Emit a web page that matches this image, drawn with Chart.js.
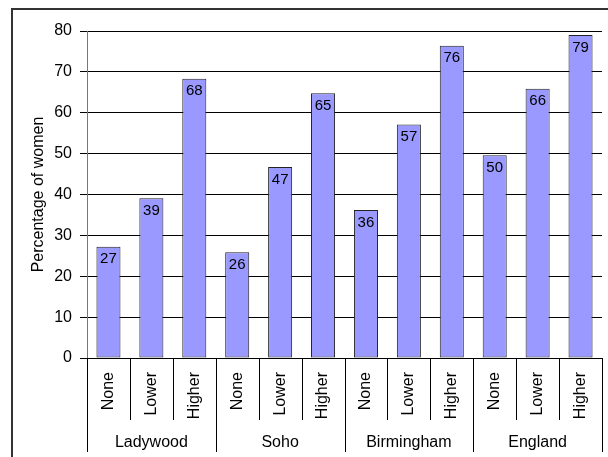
<!DOCTYPE html>
<html>
<head>
<meta charset="utf-8">
<script src="https://cdn.jsdelivr.net/npm/chart.js@4"></script>
<style>
  html, body { margin: 0; padding: 0; background: #fff; }
  #wrap { width: 608px; height: 457px; }
</style>
</head>
<body>
<div id="wrap"><canvas id="myChart" width="608" height="457"></canvas></div>
<script>
// Data
const groups = ['Ladywood', 'Soho', 'Birmingham', 'England'];
const levels = ['None', 'Lower', 'Higher'];
const ladywood = [27.2, 39.1, 68.3];
const soho = [25.9, 46.7, 64.8];
const birmingham = [36.2, 57.1, 76.4];
const england = [49.6, 65.9, 79.0];
const yTicks = [0, 10, 20, 30, 40, 50, 60, 70, 80];

const labels = [];
groups.forEach(() => levels.forEach(l => labels.push(l)));
const values = [].concat(ladywood, soho, birmingham, england);

const FONT = 'Arial, "Liberation Sans", sans-serif';

// Frame, group labels, dividers and value labels
const extras = {
  id: 'extras',
  afterDraw(chart) {
    const ctx = chart.ctx;
    const x = chart.scales.x;
    const area = chart.chartArea;
    const n = labels.length;
    const w = (x.right - x.left) / n;
    ctx.save();
    // category dividers
    ctx.strokeStyle = '#000';
    ctx.lineWidth = 1;
    for (let k = 0; k <= n; k++) {
      const px = Math.round(x.left + k * w) + 0.5;
      const end = (k % levels.length === 0) ? 452 : 420;
      ctx.beginPath();
      ctx.moveTo(px, area.bottom);
      ctx.lineTo(px, end);
      ctx.stroke();
    }
    // group names
    ctx.fillStyle = '#000';
    ctx.font = '16px ' + FONT;
    ctx.textAlign = 'center';
    ctx.textBaseline = 'middle';
    groups.forEach((g, i) => {
      const cx = x.left + (i * levels.length + levels.length / 2) * w;
      ctx.fillText(g, cx, 443);
    });
    // value labels inside bars
    ctx.font = '15px ' + FONT;
    ctx.textBaseline = 'top';
    chart.getDatasetMeta(0).data.forEach((bar, i) => {
      ctx.fillText(String(Math.round(values[i])), bar.x, bar.y + 5);
    });
    // outer frame
    ctx.strokeStyle = '#333';
    ctx.lineWidth = 2;
    ctx.beginPath();
    ctx.moveTo(12, 457);
    ctx.lineTo(12, 9);
    ctx.lineTo(608, 9);
    ctx.stroke();
    ctx.restore();
  }
};

new Chart(document.getElementById('myChart').getContext('2d'), {
  type: 'bar',
  data: {
    labels: labels,
    datasets: [{
      data: values,
      backgroundColor: '#9999ff',
      borderColor: '#222',
      borderWidth: 1,
      borderSkipped: false,
      barPercentage: 0.56,
      categoryPercentage: 1
    }]
  },
  options: {
    responsive: false,
    animation: false,
    layout: { padding: { left: 12, top: 31, right: 6, bottom: 0 } },
    plugins: {
      legend: { display: false },
      tooltip: { enabled: false }
    },
    scales: {
      x: {
        grid: { display: false },
        border: { display: false },
        ticks: {
          autoSkip: false,
          maxRotation: 90,
          minRotation: 90,
          padding: 6,
          color: '#000',
          font: { family: FONT, size: 16 }
        },
        afterFit(scale) { scale.height = 99; }
      },
      y: {
        min: 0,
        max: 80,
        afterBuildTicks(scale) { scale.ticks = yTicks.map(v => ({ value: v })); },
        grid: { color: '#000', lineWidth: 1, tickLength: 7 },
        border: { color: '#777', width: 1 },
        ticks: {
          padding: 8,
          color: '#000',
          font: { family: FONT, size: 16 }
        },
        title: {
          display: true,
          text: 'Percentage of women',
          color: '#000',
          font: { family: FONT, size: 16 },
          padding: { top: 17, bottom: 0 }
        },
        afterFit(scale) { scale.width = 75; }
      }
    }
  },
  plugins: [extras]
});
</script>
</body>
</html>
